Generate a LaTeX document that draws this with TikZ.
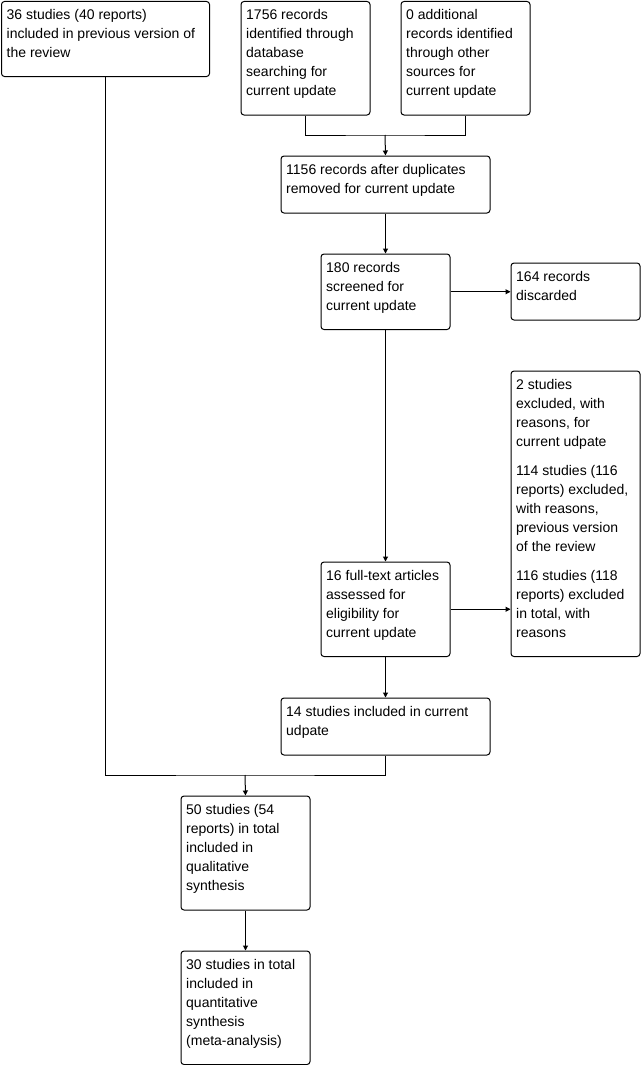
\documentclass[tikz,border=0pt]{standalone}
\usepackage{fontspec}
\setmainfont{Liberation Sans}
\usetikzlibrary{arrows.meta}
\tikzset{
  boxst/.style={draw, line width=1pt, rounded corners=3pt, inner sep=0pt, anchor=north west},
  txt/.style={anchor=north west, align=left, inner sep=0pt, font=\fontsize{14pt}{19pt}\selectfont},
  conn/.style={line width=1pt},
  arr/.style={line width=1pt, -{Triangle[length=5pt,width=5pt]}}
}
\newcommand\fbx[6]{%
  \node[boxst, minimum width=#4pt, minimum height=#5pt] (#1) at (#2,#3) {};
  \node[txt] (#1-t) at ([xshift=5.5pt,yshift=-6.5pt]#1.north west) {\rule{0pt}{12pt}#6};
}
\begin{document}
\begin{tikzpicture}[x=1pt,y=-1pt]
\useasboundingbox (0,0) rectangle (642,1065);
\fbx{a}{1}{1}{208}{75}{36 studies (40 reports)\\included in previous version of\\the review}
\fbx{b}{240.5}{1}{129}{113.5}{1756 records\\identified through\\database\\searching for\\current update}
\fbx{c}{400.5}{1}{129}{113.5}{0 additional\\records identified\\through other\\sources for\\current update}
\fbx{d}{280.5}{155.5}{209}{57}{1156 records after duplicates\\removed for current update}
\fbx{e}{320.5}{253.5}{129}{75.5}{180 records\\screened for\\current update}
\fbx{f}{510.5}{262.5}{129}{57}{164 records\\discarded}
\fbx{h}{510.5}{370.5}{129}{285.5}{2 studies\\excluded, with\\reasons, for\\current udpate\\[10pt]114 studies (116\\reports) excluded,\\with reasons,\\previous version\\of the review\\[10pt]116 studies (118\\reports) excluded\\in total, with\\reasons}
\fbx{g}{320.5}{561.5}{129}{94.5}{16 full-text articles\\assessed for\\eligibility for\\current update}
\fbx{i}{280.5}{697.5}{209}{57}{14 studies included in current\\udpate}
\fbx{j}{180.5}{795.5}{129}{114}{50 studies (54\\reports) in total\\included in\\qualitative\\synthesis}
\fbx{k}{180.5}{950.5}{129}{113.5}{30 studies in total\\included in\\quantitative\\synthesis\\(meta-analysis)}
\coordinate (j1) at (385,135);
\coordinate (j2) at (245,775);
\draw[conn] (b.south) |- (j1) -| (c.south);
\draw[arr] (j1) -- (d.north);
\draw[arr] (d.south) -- (e.north);
\draw[arr] (e.east) -- (e.east -| f.west);
\draw[arr] (e.south) -- (g.north);
\draw[arr] (g.east) -- (g.east -| h.west);
\draw[arr] (g.south) -- (i.north);
\draw[conn] (a.south) |- (j2) -| (i.south);
\draw[arr] (j2) -- (j.north);
\draw[arr] (j.south) -- (k.north);
\end{tikzpicture}
\end{document}
